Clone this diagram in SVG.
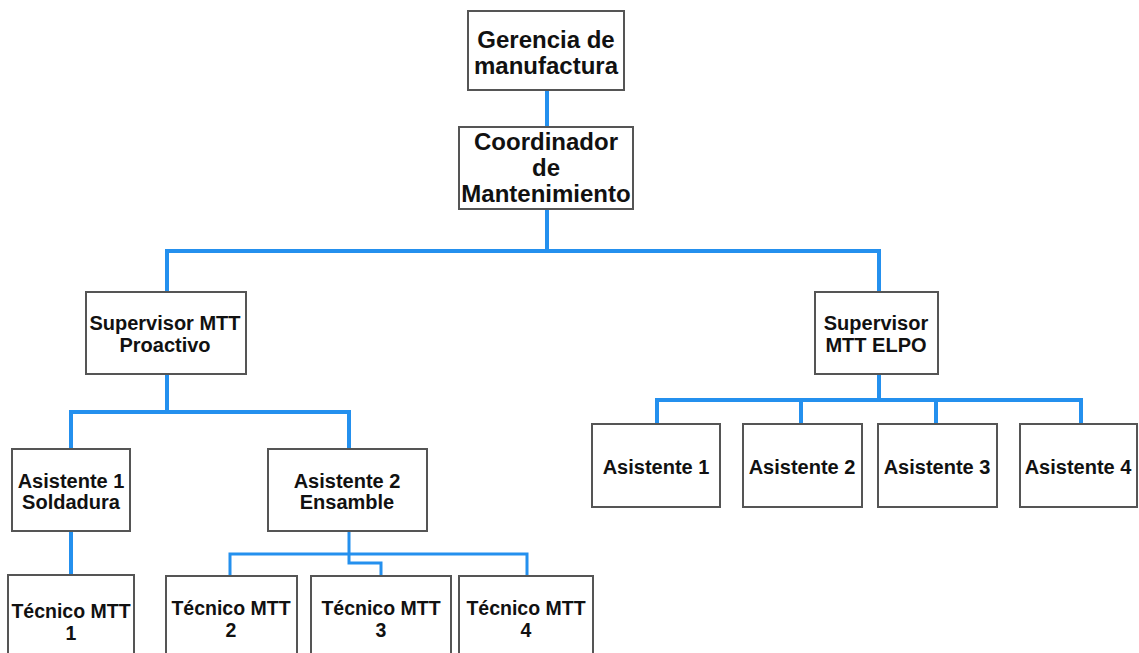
<svg xmlns="http://www.w3.org/2000/svg" width="1139" height="653" viewBox="0 0 1139 653">
  <style>
    .box { fill: #ffffff; stroke: #555555; stroke-width: 2; }
    .lbl { font-family: "Liberation Sans", Arial, sans-serif; font-weight: bold; fill: #111111; text-anchor: middle; }
    .big { font-size: 24px; }
    .mid { font-size: 20px; }
    .sm { font-size: 19.5px; }
    .wire { fill: none; stroke: #2490ee; stroke-width: 4; stroke-linejoin: miter; }
    .wire-thin { fill: none; stroke: #2490ee; stroke-width: 3; stroke-linejoin: miter; }
  </style>
  <rect width="1139" height="653" fill="#ffffff"/>

  <g id="connectors">
    <path class="wire" d="M547 90 V127"/>
    <path class="wire" d="M547 209 V251 M167 292 V251 H879 V292"/>
    <path class="wire" d="M167 374 V412 M71 449 V412 H349 V449"/>
    <path class="wire" d="M71 531 V575"/>
    <path class="wire-thin" d="M349 531 V563 H381 V576"/>
    <path class="wire-thin" d="M230 576 V554 H527 V576"/>
    <path class="wire" d="M879 374 V400 M657 424 V400 H1081 V424 M801 400 V424 M936 400 V424"/>
  </g>

  <g id="gerencia">
    <rect class="box" x="468" y="11" width="156" height="79"/>
    <text class="lbl big" x="546" y="48">Gerencia de</text>
    <text class="lbl big" x="546" y="74">manufactura</text>
  </g>

  <g id="coordinador">
    <rect class="box" x="459" y="127" width="174" height="82"/>
    <text class="lbl big" x="546" y="150">Coordinador</text>
    <text class="lbl big" x="546" y="176">de</text>
    <text class="lbl big" x="546" y="202">Mantenimiento</text>
  </g>

  <g id="supervisor-proactivo">
    <rect class="box" x="86" y="292" width="160" height="82"/>
    <text class="lbl mid" x="165" y="330">Supervisor MTT</text>
    <text class="lbl mid" x="165" y="352">Proactivo</text>
  </g>

  <g id="supervisor-elpo">
    <rect class="box" x="815" y="292" width="123" height="82"/>
    <text class="lbl mid" x="876" y="330">Supervisor</text>
    <text class="lbl mid" x="876" y="352">MTT ELPO</text>
  </g>

  <g id="asistente-soldadura">
    <rect class="box" x="12" y="449" width="118" height="82"/>
    <text class="lbl mid" x="71" y="488">Asistente 1</text>
    <text class="lbl mid" x="71" y="509">Soldadura</text>
  </g>

  <g id="asistente-ensamble">
    <rect class="box" x="268" y="449" width="159" height="82"/>
    <text class="lbl mid" x="347" y="488">Asistente 2</text>
    <text class="lbl mid" x="347" y="509">Ensamble</text>
  </g>

  <g id="tecnico-1">
    <rect class="box" x="8" y="575" width="126" height="90"/>
    <text class="lbl sm" x="71" y="618">Técnico MTT</text>
    <text class="lbl sm" x="71" y="640">1</text>
  </g>

  <g id="tecnico-2">
    <rect class="box" x="166" y="576" width="131" height="90"/>
    <text class="lbl sm" x="231" y="615">Técnico MTT</text>
    <text class="lbl sm" x="231" y="637">2</text>
  </g>

  <g id="tecnico-3">
    <rect class="box" x="311" y="576" width="140" height="90"/>
    <text class="lbl sm" x="381" y="615">Técnico MTT</text>
    <text class="lbl sm" x="381" y="637">3</text>
  </g>

  <g id="tecnico-4">
    <rect class="box" x="459" y="576" width="134" height="90"/>
    <text class="lbl sm" x="526" y="615">Técnico MTT</text>
    <text class="lbl sm" x="526" y="637">4</text>
  </g>

  <g id="asistente-1">
    <rect class="box" x="592" y="424" width="128" height="83"/>
    <text class="lbl mid" x="656" y="474">Asistente 1</text>
  </g>

  <g id="asistente-2">
    <rect class="box" x="743" y="424" width="119" height="83"/>
    <text class="lbl mid" x="802" y="474">Asistente 2</text>
  </g>

  <g id="asistente-3">
    <rect class="box" x="878" y="424" width="119" height="83"/>
    <text class="lbl mid" x="937" y="474">Asistente 3</text>
  </g>

  <g id="asistente-4">
    <rect class="box" x="1020" y="424" width="117" height="83"/>
    <text class="lbl mid" x="1078" y="474">Asistente 4</text>
  </g>
</svg>
